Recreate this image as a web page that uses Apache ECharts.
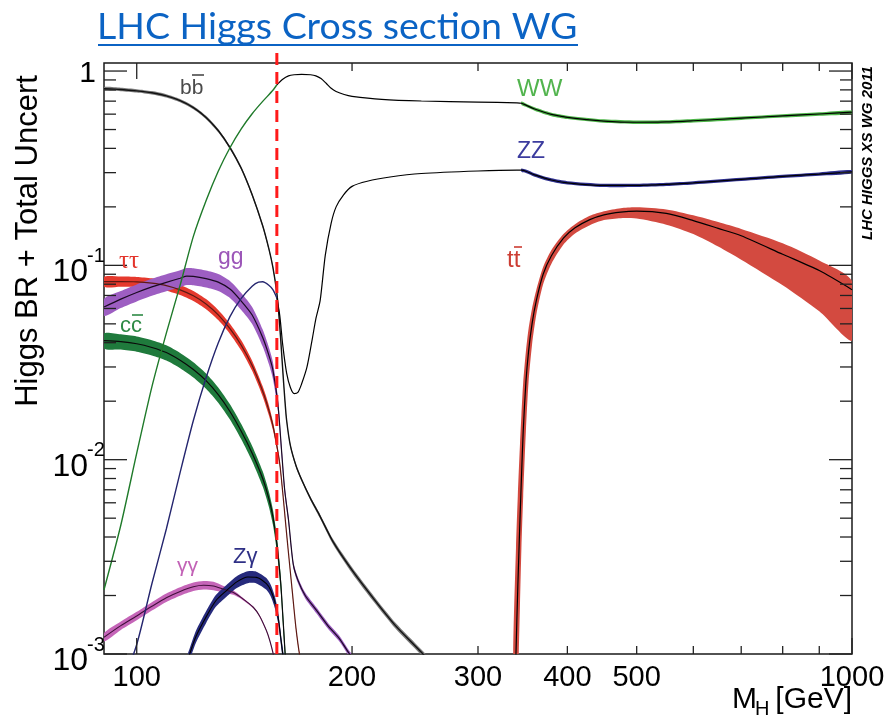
<!DOCTYPE html>
<html>
<head>
<meta charset="utf-8">
<script src="https://cdn.jsdelivr.net/npm/echarts@6/dist/echarts.min.js"></script>
<style>
html,body{margin:0;padding:0;background:#fff;}
#chart{width:889px;height:718px;}
</style>
</head>
<body>
<div id="chart"></div>
<script>
// ---- Higgs boson branching ratios vs. mass (GeV) ----
const bbMass = [90,95,100,105,110,115,120,125,130,135,140,145,150,153,155,157,158,159,160,161,162,164,167,170,175,180,188,200,215,230,250,265];
const bbBR   = [0.812,0.804,0.791,0.773,0.745,0.704,0.648,0.577,0.494,0.404,0.316,0.231,0.160,0.122,0.098,0.072,0.056,0.041,0.029,0.021,0.016,0.0118,0.0093,0.0079,0.0063,0.0052,0.0038,0.0027,0.0019,0.0014,0.00102,0.0008];
const bbUnc  = [0.02,0.02,0.02,0.02,0.02,0.02,0.02,0.02,0.02,0.02,0.02,0.02,0.02,0.02,0.02,0.02,0.02,0.02,0.02,0.02,0.02,0.02,0.02,0.02,0.02,0.025,0.03,0.035,0.035,0.035,0.035,0.035];

const wwMass = [90,95,100,105,110,115,120,125,130,135,140,145,150,155,157,160,163,166,170,175,178,181,184,187,190,195,200,220,250,300,340,345,350,360,380,400,450,500,550,600,700,800,900,1000];
const wwBR   = [0.00214,0.0046,0.0108,0.0237,0.0448,0.0791,0.141,0.215,0.305,0.403,0.504,0.603,0.698,0.796,0.85,0.908,0.945,0.957,0.962,0.957,0.945,0.915,0.865,0.815,0.785,0.757,0.741,0.715,0.701,0.692,0.686,0.683,0.668,0.638,0.598,0.578,0.553,0.545,0.547,0.555,0.572,0.588,0.601,0.614];
const wwUnc  = [0,0,0,0,0,0,0,0,0,0,0,0,0,0,0,0,0,0,0,0,0,0,0,0,0,0,0,0,0,0,0,0.02,0.02,0.02,0.02,0.02,0.02,0.02,0.02,0.02,0.02,0.02,0.02,0.02];

const zzMass = [90,95,100,105,110,115,120,125,130,135,140,145,148,150,153,155,157,158.5,160,162,164,166,168,170,173,176,178,180.5,183.5,187,190,194.5,200,210,226,250,300,340,345,350,360,380,400,450,500,550,600,700,800,900,1000];
const zzBR   = [0.00042,0.00067,0.00112,0.0023,0.0044,0.0086,0.0159,0.0264,0.0399,0.0545,0.0676,0.0781,0.082,0.0823,0.079,0.075,0.068,0.055,0.039,0.028,0.0235,0.0219,0.0222,0.0245,0.030,0.042,0.053,0.066,0.113,0.165,0.200,0.230,0.255,0.271,0.285,0.297,0.306,0.309,0.309,0.305,0.292,0.275,0.266,0.258,0.258,0.261,0.266,0.277,0.287,0.295,0.303];
const zzUnc  = [0,0,0,0,0,0,0,0,0,0,0,0,0,0,0,0,0,0,0,0,0,0,0,0,0,0,0,0,0,0,0,0,0,0,0,0,0,0,0.02,0.02,0.02,0.02,0.02,0.02,0.02,0.02,0.02,0.02,0.02,0.02,0.02];

const ccMass = [90,95,100,105,110,115,120,125,130,135,140,145,150,153,155,157,159,160,161,162];
const ccBR   = [0.041,0.0405,0.0395,0.0378,0.0356,0.0325,0.0291,0.0255,0.0216,0.0177,0.0140,0.0108,0.0080,0.0063,0.0051,0.0037,0.0023,0.0016,0.0011,0.00075];
const ccUnc  = [0.09,0.09,0.09,0.09,0.09,0.09,0.09,0.09,0.09,0.09,0.09,0.09,0.09,0.09,0.09,0.09,0.09,0.09,0.09,0.09];

const tauMass = [90,95,100,105,110,115,120,125,130,135,140,145,150,153,155,157,158.5,160,161.5,163,165,167,169,172];
const tauBR   = [0.0825,0.0826,0.0823,0.081,0.0787,0.0748,0.0697,0.0633,0.0556,0.0472,0.0388,0.0305,0.0225,0.0180,0.0150,0.0118,0.0095,0.0068,0.0047,0.0033,0.0021,0.00135,0.00098,0.0007];
const tauUnc  = [0.06,0.06,0.06,0.06,0.06,0.06,0.06,0.06,0.06,0.06,0.06,0.06,0.06,0.06,0.05,0.04,0.025,0.015,0.01,0.01,0.01,0.01,0.01,0.01];

const ggMass = [90,95,100,105,110,115,117.5,120,125,130,135,140,145,150,153,155,157.5,159.5,161,163,165.5,168,172,178.5,185,192,198,205];
const ggBR   = [0.061,0.067,0.0725,0.0775,0.0818,0.0858,0.088,0.0878,0.0855,0.082,0.0755,0.0655,0.0555,0.0425,0.0345,0.0290,0.0195,0.0108,0.0070,0.0049,0.0029,0.0024,0.0020,0.00167,0.0014,0.0012,0.00101,0.00085];
const ggUnc  = [0.1,0.1,0.1,0.1,0.1,0.1,0.1,0.1,0.1,0.1,0.1,0.1,0.1,0.1,0.1,0.1,0.08,0.06,0.05,0.04,0.035,0.035,0.035,0.035,0.035,0.035,0.035,0.035];

const aaMass = [90,95,100,105,110,115,120,124,128,132,136.5,140,145.5,148.5,151.8,153.5,155.2,157];
const aaBR   = [0.00122,0.0014,0.00157,0.00176,0.00195,0.0021,0.00222,0.00226,0.00224,0.00216,0.00207,0.00195,0.00174,0.00157,0.00132,0.00117,0.00100,0.00082];
const aaUnc  = [0.05,0.05,0.05,0.05,0.05,0.05,0.05,0.05,0.05,0.04,0.025,0.015,0.01,0.01,0.01,0.01,0.01,0.01];

const zaMass = [117,118.6,121,125,129,133.5,138,143,147,151.8,154,156,157.5,158.5,159.5,160.5];
const zaBR   = [0.00085,0.001,0.00123,0.00155,0.00188,0.00212,0.00235,0.00249,0.00248,0.0023,0.00212,0.00185,0.00158,0.00133,0.0011,0.00092];
const zaUnc  = [0.07,0.07,0.07,0.07,0.07,0.07,0.07,0.07,0.07,0.07,0.07,0.07,0.07,0.07,0.07,0.07];

// top-pair channel: central value with its lower / upper band edges
const ttMass = [336,339,341,343.4,345,347,350,353,357,362,370,380,395,410,430,450,475,500,550,600,650,700,800,900,1000];
const ttBR   = [0.0002,0.001,0.0022,0.0049,0.008,0.014,0.025,0.036,0.05,0.066,0.09,0.112,0.138,0.156,0.172,0.182,0.188,0.19,0.185,0.17,0.155,0.142,0.114,0.094,0.075];
const ttLow  = [0.00005,0.0002,0.0006,0.0018,0.0035,0.0065,0.014,0.025,0.039,0.056,0.08,0.102,0.128,0.146,0.161,0.171,0.175,0.174,0.162,0.145,0.125,0.107,0.079,0.058,0.041];
const ttHigh = [0.001,0.0035,0.0065,0.012,0.017,0.025,0.036,0.047,0.06,0.075,0.098,0.12,0.145,0.163,0.18,0.19,0.197,0.199,0.194,0.181,0.167,0.154,0.13,0.106,0.083];

// ---- axes ----
const xMin = 90, xMax = 1000, yMin = 0.001, yMax = 1.1;
const xTickValues = [100,200,300,400,500,600,700,800,900,1000];
const xMajorTicks = [100,1000];
const xLabelValues = [100,200,300,400,500,1000];
const yMajorTicks = [0.001,0.01,0.1,1];
const yMinorTicks = [0.002,0.003,0.004,0.005,0.006,0.007,0.008,0.009,0.02,0.03,0.04,0.05,0.06,0.07,0.08,0.09,0.2,0.3,0.4,0.5,0.6,0.7,0.8,0.9];
const yLabelExp = [-3,-2,-1,0];
const markerMass = 157;

const FONT = '"Liberation Sans", Arial, Helvetica, sans-serif';
const chart = echarts.init(document.getElementById('chart'), null, {renderer: 'canvas'});

function scaled(br, unc, sign) { return br.map((v, i) => v * (1 + sign * unc[i])); }

// uncertainty band drawn as a filled polygon between the lower and upper edges
function bandSeries(mass, low, high, color, z) {
  const idx = [];
  for (let i = 0; i < mass.length; i++) if (high[i] > low[i]) idx.push(i);
  return {
    type: 'custom', z: z, silent: true, clip: true, animation: false,
    data: [[mass[idx[0]], high[idx[0]]]],
    renderItem: function (params, api) {
      const pts = [];
      idx.forEach(i => pts.push(api.coord([mass[i], high[i]])));
      idx.slice().reverse().forEach(i => pts.push(api.coord([mass[i], Math.max(low[i], 1e-6)])));
      const cs = params.coordSys;
      return {
        type: 'polygon',
        shape: {points: pts, smooth: 0.25},
        style: {fill: color, stroke: null},
        clipPath: {type: 'rect', shape: {x: cs.x, y: cs.y, width: cs.width, height: cs.height}}
      };
    }
  };
}
function relBand(mass, br, unc, color, z) {
  return bandSeries(mass, scaled(br, unc, -1), scaled(br, unc, 1), color, z);
}

// central value curve
function lineSeries(mass, br, color, width, z, keep) {
  const data = [];
  mass.forEach((m, i) => { if (!keep || keep(m)) data.push([m, br[i]]); });
  return {
    type: 'line', data: data, symbol: 'none', showSymbol: false, smooth: 0.25,
    lineStyle: {color: color, width: width}, z: z, silent: true, clip: true, animation: false
  };
}

const option = {
  animation: false,
  backgroundColor: '#ffffff',
  grid: {left: 104, right: 37, top: 63, bottom: 64, show: true, borderColor: '#1a1a1a', borderWidth: 1.5, backgroundColor: 'transparent'},
  xAxis: {type: 'log', logBase: 10, min: xMin, max: xMax,
    axisLine: {show: false}, axisTick: {show: false}, axisLabel: {show: false}, splitLine: {show: false}},
  yAxis: {type: 'log', logBase: 10, min: yMin, max: yMax,
    axisLine: {show: false}, axisTick: {show: false}, axisLabel: {show: false}, splitLine: {show: false}},
  series: [
    relBand(ccMass, ccBR, ccUnc, '#1f7a3c', 2),
    relBand(tauMass, tauBR, tauUnc, '#e5392d', 3),
    relBand(ggMass, ggBR, ggUnc, '#9d5ec2', 4),
    relBand(aaMass, aaBR, aaUnc, '#c565b8', 5),
    relBand(zaMass, zaBR, zaUnc, '#262a7c', 6),
    relBand(bbMass, bbBR, bbUnc, '#7a7a7a', 7),
    bandSeries(ttMass, ttLow, ttHigh, '#d34a40', 8),
    relBand(wwMass, wwBR, wwUnc, '#4db548', 9),
    relBand(zzMass, zzBR, zzUnc, '#2e2f8f', 9),

    lineSeries(ccMass, ccBR, '#0a0a0a', 1.2, 20),
    lineSeries(tauMass, tauBR, '#5c1a14', 1.2, 20),
    lineSeries(ggMass, ggBR, '#1a0a22', 1.2, 20),
    lineSeries(aaMass, aaBR, '#40103a', 1.1, 20),
    lineSeries(zaMass, zaBR, '#000000', 1.1, 20),
    lineSeries(bbMass, bbBR, '#111111', 1.4, 21),
    lineSeries(ttMass, ttBR, '#000000', 1.2, 21),
    lineSeries(wwMass, wwBR, '#1f7a2a', 1.4, 22, m => m <= markerMass),
    lineSeries(wwMass, wwBR, '#000000', 1.2, 22, m => m >= markerMass),
    lineSeries(zzMass, zzBR, '#24256e', 1.4, 22, m => m <= markerMass),
    lineSeries(zzMass, zzBR, '#000000', 1.2, 22, m => m >= markerMass)
  ]
};
chart.setOption(option);

// ---- frame ticks, tick labels, titles and channel labels ----
function toPx(m, v) { return chart.convertToPixel({gridIndex: 0}, [m, v]); }
const g = [];
const lb = toPx(xMin, yMin), rt = toPx(xMax, yMax);
const L = lb[0], B = lb[1], R = rt[0], T = rt[1];
function seg(x1, y1, x2, y2, color, w, dash) {
  g.push({type: 'line', silent: true, z: 50, shape: {x1, y1, x2, y2},
    style: {stroke: color, lineWidth: w, lineDash: dash || null}});
}
function txt(x, y, text, size, color, align, valign, extra) {
  const base = {text: text, fontSize: size, fontFamily: FONT, fill: color,
    align: align, textAlign: align, verticalAlign: valign, textVerticalAlign: valign};
  const el = Object.assign({type: 'text', silent: true, z: 60, x: x, y: y}, extra || {});
  el.style = Object.assign(base, (extra && extra.style) || {});
  g.push(el);
}

xTickValues.forEach(v => {
  const x = toPx(v, yMin)[0];
  const len = xMajorTicks.indexOf(v) >= 0 ? 16 : 8;
  seg(x, B, x, B - len, '#222', 1.3);
  seg(x, T, x, T + len, '#222', 1.3);
});
yMajorTicks.forEach(v => {
  const y = toPx(xMin, v)[1];
  seg(L, y, L + 23, y, '#222', 1.3);
  seg(R, y, R - 23, y, '#222', 1.3);
});
yMinorTicks.forEach(v => {
  const y = toPx(xMin, v)[1];
  seg(L, y, L + 12, y, '#222', 1.3);
  seg(R, y, R - 12, y, '#222', 1.3);
});

xLabelValues.forEach(v => {
  const x = toPx(v, yMin)[0];
  txt(x, B + 24, String(v), 29, '#000', 'center', 'middle');
});
yMajorTicks.forEach((v, i) => {
  const y = toPx(xMin, v)[1];
  const e = yLabelExp[i];
  if (e === 0) {
    txt(L - 8, y + 3, '1', 30, '#000', 'right', 'middle');
  } else {
    txt(L - 16, y + 7, '10', 32, '#000', 'right', 'middle');
    txt(L - 17, y - 9, String(e), 20, '#000', 'left', 'middle');
  }
});

// axis titles
txt(852, 700, '[GeV]', 30, '#000', 'right', 'middle');
txt(732, 700, 'M', 30, '#000', 'left', 'middle');
txt(755, 709, 'H', 20, '#000', 'left', 'middle');
txt(28, 241, 'Higgs BR + Total Uncert', 31, '#000', 'center', 'middle', {rotation: Math.PI / 2});
txt(868, 153, 'LHC HIGGS XS WG 2011', 15, '#000', 'center', 'middle',
  {rotation: Math.PI / 2, style: {fontWeight: 'bold', fontStyle: 'italic'}});

// page heading
txt(97, 27, 'LHC Higgs Cross section WG', 37.5, '#0b63c4', 'left', 'middle', {style: {fontFamily: 'Lato, "Open Sans", sans-serif'}});
seg(98, 45, 578, 45, '#0b63c4', 2);

// threshold marker
const mx = toPx(markerMass, yMin)[0];
seg(mx, 53, mx, B, '#ff1a1a', 3, [12, 7]);

// channel labels
function barLabel(x, y, a, size, color, barX1, barX2, barY) {
  txt(x, y, a, size, color, 'left', 'middle');
  seg(barX1, barY, barX2, barY, color, 1.6);
}
barLabel(180, 88, 'bb', 21, '#4a4a4a', 192, 204, 75);
txt(517, 89, 'WW', 24, '#52b44e', 'left', 'middle');
txt(517, 152, 'ZZ', 23, '#3b3b9e', 'left', 'middle');
barLabel(507, 260, 'tt', 24, '#cc3d33', 514, 522, 247);
txt(119, 261, 'ττ', 25, '#e3342b', 'left', 'middle', {style: {fontFamily: '"Liberation Serif", "DejaVu Serif", serif'}});
txt(218, 258, 'gg', 23, '#9b55b8', 'left', 'middle');
barLabel(120, 326, 'cc', 22, '#2d8a45', 132, 143, 315);
txt(177, 566, 'γγ', 21, '#c262b6', 'left', 'middle');
txt(233, 557, 'Zγ', 22, '#2f3086', 'left', 'middle');

chart.setOption({graphic: g});
</script>
</body>
</html>
